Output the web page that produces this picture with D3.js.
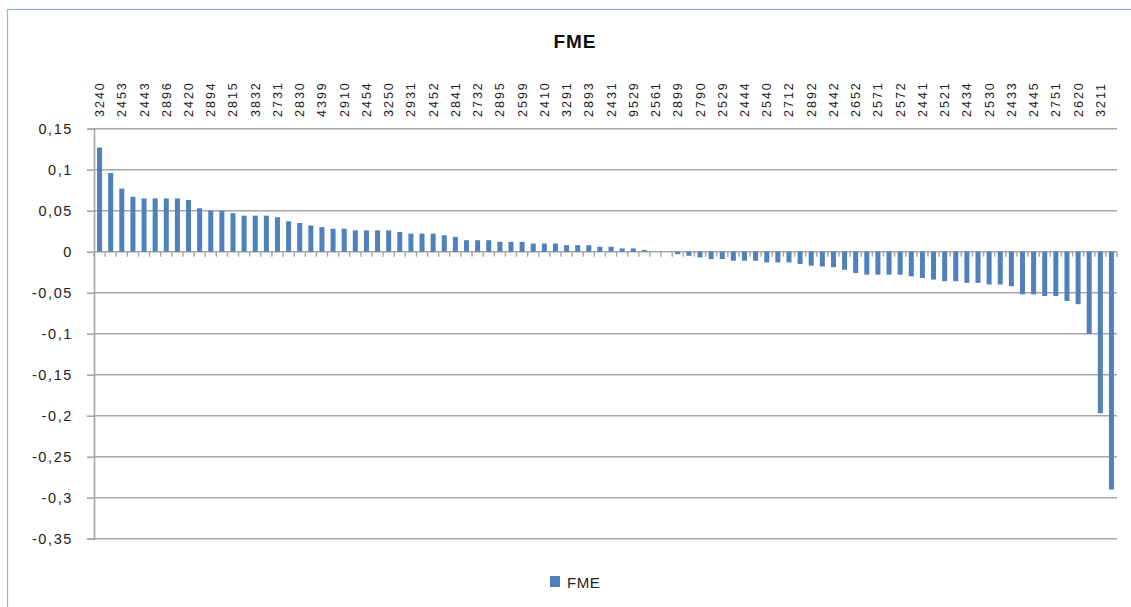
<!DOCTYPE html>
<html>
<head>
<meta charset="utf-8">
<script src="https://cdn.jsdelivr.net/npm/d3@7"></script>
<style>
  html, body { margin: 0; padding: 0; background: #fff; }
  svg { display: block; }
  text { font-family: "Liberation Sans", Arial, sans-serif; }
</style>
</head>
<body>
<svg id="chart" width="1131" height="607"></svg>
<script>
// ---- data ----
const title = "FME";
const seriesName = "FME";
// category names: only every other one is legible in the source (null = unlabeled)
const categories = [
  "3240", null, "2453", null, "2443", null, "2896", null, "2420", null,
  "2894", null, "2815", null, "3832", null, "2731", null, "2830", null,
  "4399", null, "2910", null, "2454", null, "3250", null, "2931", null,
  "2452", null, "2841", null, "2732", null, "2895", null, "2599", null,
  "2410", null, "3291", null, "2893", null, "2431", null, "9529", null,
  "2561", null, "2899", null, "2790", null, "2529", null, "2444", null,
  "2540", null, "2712", null, "2892", null, "2442", null, "2652", null,
  "2571", null, "2572", null, "2441", null, "2521", null, "2434", null,
  "2530", null, "2433", null, "2445", null, "2751", null, "2620", null,
  "3211", null
];
const values = [
  0.127, 0.096, 0.077, 0.067, 0.065, 0.065, 0.065, 0.065, 0.063, 0.053,
  0.050, 0.050, 0.047, 0.044, 0.044, 0.044, 0.042, 0.037, 0.035, 0.032,
  0.030, 0.028, 0.028, 0.026, 0.026, 0.026, 0.026, 0.024, 0.022, 0.022,
  0.022, 0.020, 0.018, 0.014, 0.014, 0.014, 0.012, 0.012, 0.012, 0.010,
  0.010, 0.010, 0.008, 0.008, 0.008, 0.006, 0.006, 0.004, 0.004, 0.002,
  0.000, 0.000, -0.003, -0.005, -0.007, -0.009, -0.009, -0.011, -0.011, -0.011,
  -0.013, -0.013, -0.013, -0.015, -0.017, -0.018, -0.019, -0.022, -0.026, -0.028,
  -0.028, -0.028, -0.028, -0.030, -0.032, -0.034, -0.036, -0.036, -0.038, -0.038,
  -0.040, -0.040, -0.042, -0.052, -0.052, -0.054, -0.054, -0.060, -0.064, -0.100,
  -0.197, -0.290
];
const yTicks = [0.15, 0.1, 0.05, 0, -0.05, -0.1, -0.15, -0.2, -0.25, -0.3, -0.35];

// ---- layout ----
const svg = d3.select("#chart");
const plotLeft = 94, plotRight = 1117, plotTop = 128.7, plotBottom = 538.7;
const barColor = "#4f81bd";
const gridColor = "#a6a6a6";

// outer chart border
svg.append("rect")
  .attr("x", 7.5).attr("y", 9.5)
  .attr("width", 1140).attr("height", 620)
  .attr("fill", "none").attr("stroke", "#8db4e2").attr("stroke-width", 1.2);

const x = d3.scaleBand()
  .domain(d3.range(categories.length))
  .range([plotLeft, plotRight])
  .paddingInner(0.55)
  .paddingOuter(0.275);

const y = d3.scaleLinear().domain([-0.35, 0.15]).range([plotBottom, plotTop]);

// gridlines
svg.append("g")
  .selectAll("line")
  .data(yTicks)
  .join("line")
  .attr("x1", plotLeft).attr("x2", plotRight)
  .attr("y1", d => y(d)).attr("y2", d => y(d))
  .attr("stroke", gridColor).attr("stroke-width", 1.6);

// y axis
const fmt = d => String(+d.toFixed(2)).replace(".", ",");
const yAxis = svg.append("g")
  .attr("transform", `translate(${plotLeft},0)`)
  .call(d3.axisLeft(y).tickValues(yTicks).tickSize(7).tickPadding(14).tickFormat(fmt));
yAxis.select(".domain").attr("stroke", gridColor).attr("stroke-width", 1.6);
yAxis.selectAll(".tick line").attr("stroke", gridColor).attr("stroke-width", 1.6);
yAxis.selectAll(".tick text")
  .attr("fill", "#222")
  .style("font-size", "14.5px")
  .style("letter-spacing", "1.6px")
  .style("font-family", "'Liberation Sans', Arial, sans-serif");

// bars
svg.append("g")
  .selectAll("rect")
  .data(values)
  .join("rect")
  .attr("x", (d, i) => x(i))
  .attr("width", x.bandwidth())
  .attr("y", d => y(Math.max(0, d)))
  .attr("height", d => Math.abs(y(d) - y(0)))
  .attr("fill", barColor);

// category ticks on the zero line (at band boundaries)
const boundaries = d3.range(categories.length + 1).map(i => plotLeft + i * (plotRight - plotLeft) / categories.length);
svg.append("g")
  .selectAll("line")
  .data(boundaries)
  .join("line")
  .attr("x1", d => d).attr("x2", d => d)
  .attr("y1", y(0)).attr("y2", y(0) + 5)
  .attr("stroke", gridColor).attr("stroke-width", 1.4);

// category labels (top, rotated)
svg.append("g")
  .selectAll("text")
  .data(categories.map((c, i) => ({ c, i })).filter(d => d.c !== null))
  .join("text")
  .attr("transform", d => `translate(${x(d.i) + x.bandwidth() / 2 + 4.5},117) rotate(-90)`)
  .attr("text-anchor", "start")
  .style("font-size", "12.5px")
  .style("letter-spacing", "2px")
  .attr("fill", "#222")
  .text(d => d.c);

// title
svg.append("text")
  .attr("x", 575).attr("y", 48)
  .attr("text-anchor", "middle")
  .style("font-size", "19px")
  .style("font-weight", "bold")
  .style("letter-spacing", "1px")
  .attr("fill", "#111")
  .text(title);

// legend
svg.append("rect")
  .attr("x", 550).attr("y", 576).attr("width", 10).attr("height", 11)
  .attr("fill", barColor);
svg.append("text")
  .attr("x", 567).attr("y", 587.5)
  .style("font-size", "15px")
  .style("letter-spacing", "0.5px")
  .attr("fill", "#222")
  .text(seriesName);
</script>
</body>
</html>
